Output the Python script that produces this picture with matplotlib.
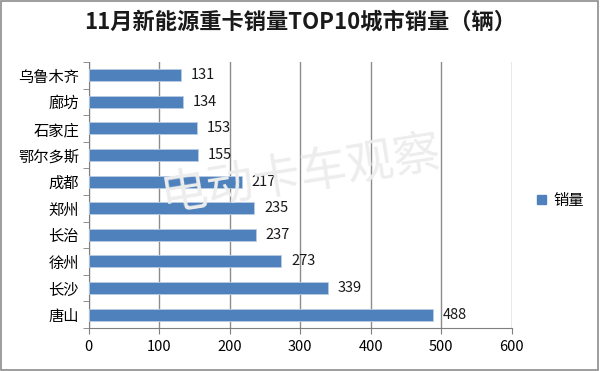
import matplotlib
matplotlib.use("Agg")
import matplotlib.pyplot as plt
from matplotlib.patches import Rectangle

plt.rcParams['font.family'] = ['Noto Sans CJK SC', 'DejaVu Sans']

# data (top to bottom as shown)
cities = ['乌鲁木齐', '廊坊', '石家庄', '鄂尔多斯', '成都', '郑州', '长治', '徐州', '长沙', '唐山']
sales = [131, 134, 153, 155, 217, 235, 237, 273, 339, 488]
x_ticks = [0, 100, 200, 300, 400, 500, 600]

bar_color = '#4F81BD'
grid_color = '#8C8C8C'

fig = plt.figure(figsize=(6, 3.71), dpi=100)
fig.patch.set_facecolor('white')
fig.patches.append(Rectangle((0.002, 0.003), 0.995, 0.993, transform=fig.transFigure,
                             fill=False, edgecolor='#8C8C8C', linewidth=1.2))

# faint watermark behind the chart
fig.text(0.5, 0.53, '电动卡车观察', fontsize=34, color='#ededed',
         ha='center', va='center', rotation=9, zorder=0)

ax = fig.add_axes([0.148, 0.116, 0.705, 0.717])
ax.patch.set_alpha(0)
n = len(cities)
ypos = list(range(n))[::-1]
ax.barh(ypos, sales, height=0.45, color=bar_color, edgecolor='#B8CCE4', linewidth=0.6, zorder=3)

for y, v in zip(ypos, sales):
    ax.text(v + 14, y, str(v), va='center', ha='left', fontsize=10.5, color='#1a1a1a', zorder=4)

ax.set_xlim(0, 600)
ax.set_ylim(-0.5, n - 0.5)
ax.set_xticks(x_ticks)
ax.set_xticklabels([str(t) for t in x_ticks], fontsize=10.5)
ax.set_yticks(ypos)
ax.set_yticklabels(cities, fontsize=11)
ax.set_yticks([i - 0.5 for i in range(n + 1)], minor=True)
ax.tick_params(axis='y', which='major', length=0, pad=7)
ax.tick_params(axis='y', which='minor', length=4, color='#7f7f7f', direction='out')
ax.tick_params(axis='x', length=4, color='#7f7f7f', direction='out', pad=5)

ax.grid(axis='x', color=grid_color, linewidth=1.0, zorder=0)
for s in ['top', 'right']:
    ax.spines[s].set_visible(False)
ax.spines['left'].set_color('#7f7f7f')
ax.spines['bottom'].set_color('#7f7f7f')

fig.text(0.5, 0.94, '11月新能源重卡销量TOP10城市销量（辆）', ha='center', va='center',
         fontsize=16, fontweight='bold', color='#1a1a1a')

handle = Rectangle((0, 0), 1, 1, color=bar_color)
fig.legend([handle], ['销量'], loc='center left', bbox_to_anchor=(0.872, 0.46),
           frameon=False, fontsize=11, handlelength=0.6, handleheight=0.6, handletextpad=0.5)

fig.savefig('out.png', dpi=100)
